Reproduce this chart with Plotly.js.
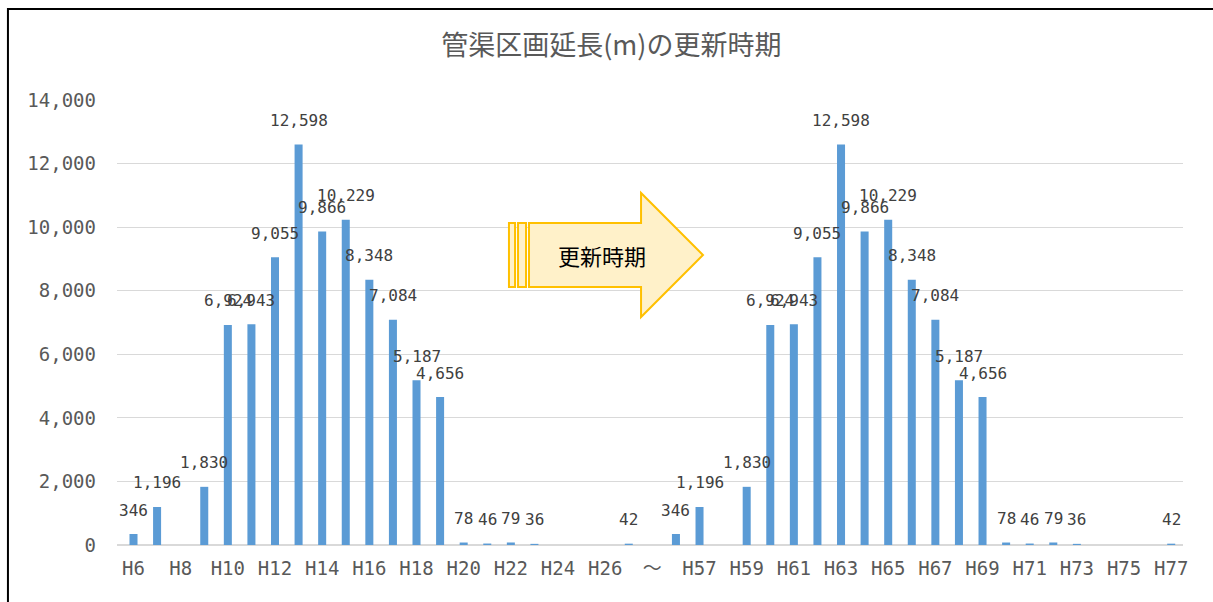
<!DOCTYPE html>
<html><head><meta charset="utf-8">
<script src="https://cdn.plot.ly/plotly-3.0.1.min.js"></script>
<style>html,body{margin:0;padding:0;background:#fff}#chart{width:1213px;height:602px}</style>
</head><body><div id="chart"></div>
<script>
// Categories: H6..H27, separator, H56..H77
const categoriesLeft = ["H6","H7","H8","H9","H10","H11","H12","H13","H14","H15","H16","H17","H18","H19","H20","H21","H22","H23","H24","H25","H26","H27"];
const separator = ["～"];
const categoriesRight = ["H56","H57","H58","H59","H60","H61","H62","H63","H64","H65","H66","H67","H68","H69","H70","H71","H72","H73","H74","H75","H76","H77"];
const valuesLeft = [346,1196,null,1830,6924,6943,9055,12598,9866,10229,8348,7084,5187,4656,78,46,79,36,null,null,null,42];
const valuesSeparator = [null];
const valuesRight = [346,1196,null,1830,6924,6943,9055,12598,9866,10229,8348,7084,5187,4656,78,46,79,36,null,null,null,42];
const tickLabels = ["H6","H8","H10","H12","H14","H16","H18","H20","H22","H24","H26","～","H57","H59","H61","H63","H65","H67","H69","H71","H73","H75","H77"];
const chartTitle = "管渠区画延長(m)の更新時期";
const arrowText = "更新時期";

const categories = categoriesLeft.concat(separator, categoriesRight);
const values = valuesLeft.concat(valuesSeparator, valuesRight);

const numFont = "DejaVu Sans Mono, Noto Sans CJK JP, monospace";
const cjkFont = "Noto Sans CJK JP, sans-serif";

const fmt = v => v.toLocaleString("en-US");

const annotations = [];
categories.forEach((c, i) => {
  const v = values[i];
  if (v === null) return;
  annotations.push({
    x: c, y: v, xref: "x", yref: "y", text: fmt(v), showarrow: false,
    yanchor: "middle", yshift: 24,
    font: {family: numFont, size: 16, color: "#404040"}
  });
});
annotations.push({
  xref: "paper", yref: "paper", x: 0.455, y: 0.6517, text: arrowText, showarrow: false,
  xanchor: "center", yanchor: "middle",
  font: {family: cjkFont, size: 22, color: "#000000"}
});

const arrowStyle = {fillcolor: "#FFF1C9", line: {color: "#FFC000", width: 2}};
const shapes = [
  Object.assign({type: "path", xref: "paper", yref: "paper",
    path: "M 0.3865 0.5798 L 0.4916 0.5798 L 0.4916 0.5124 L 0.5497 0.6517 L 0.4916 0.7910 L 0.4916 0.7236 L 0.3865 0.7236 Z"}, arrowStyle),
  Object.assign({type: "rect", xref: "paper", yref: "paper", x0: 0.3677, x1: 0.3734, y0: 0.5798, y1: 0.7236}, arrowStyle),
  Object.assign({type: "rect", xref: "paper", yref: "paper", x0: 0.3762, x1: 0.3837, y0: 0.5798, y1: 0.7236}, arrowStyle),
  {type: "rect", xref: "paper", yref: "paper", x0: -0.1023, x1: 1.06, y0: -0.2, y1: 1.2045,
   line: {color: "#000000", width: 2}, fillcolor: "rgba(0,0,0,0)", layer: "above"}
];

const trace = {
  type: "bar", x: categories, y: values,
  marker: {color: "#5B9BD5"},
  hoverinfo: "x+y"
};

const layout = {
  width: 1213, height: 602,
  margin: {l: 117, r: 30, t: 100, b: 57},
  paper_bgcolor: "#ffffff", plot_bgcolor: "#ffffff",
  showlegend: false,
  bargap: 0.66,
  title: {text: chartTitle, x: 0.504, xanchor: "center", y: 0.925, yanchor: "middle",
          font: {family: cjkFont, size: 27, color: "#595959"}},
  xaxis: {
    type: "category", categoryorder: "array", categoryarray: categories,
    tickmode: "array", tickvals: categories.filter((c, i) => i % 2 === 0), ticktext: tickLabels,
    tickangle: 0, ticks: "", showgrid: false, showline: false, zeroline: false,
    ticklabelstandoff: 10,
    tickfont: {family: numFont, size: 19, color: "#595959"}
  },
  yaxis: {
    range: [0, 14000], dtick: 2000, tickformat: ",", ticks: "",
    showgrid: true, gridcolor: "#D9D9D9", gridwidth: 1,
    zeroline: true, zerolinecolor: "#D9D9D9", zerolinewidth: 1.5, showline: false,
    ticklabelstandoff: 20,
    tickfont: {family: numFont, size: 19, color: "#595959"}
  },
  annotations: annotations,
  shapes: shapes
};

Plotly.newPlot("chart", [trace], layout, {displayModeBar: false, staticPlot: true});
</script></body></html>
